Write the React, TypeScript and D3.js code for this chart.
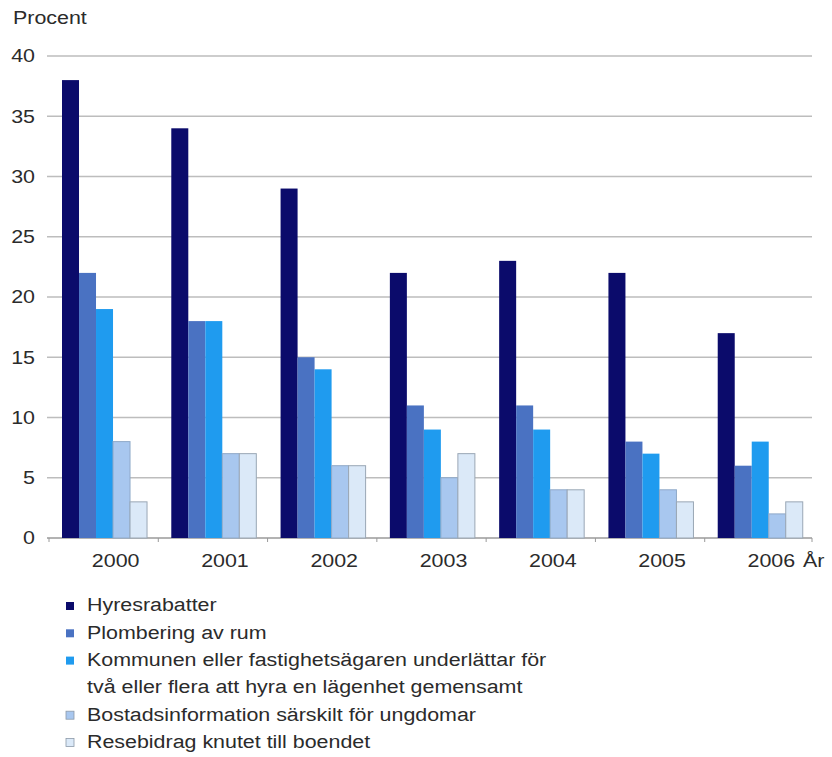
import React from "react";
import * as d3 from "d3";

const years = ["2000", "2001", "2002", "2003", "2004", "2005", "2006"];
const seriesNames = [
  "Hyresrabatter",
  "Plombering av rum",
  "Kommunen eller fastighetsägaren underlättar för|två eller flera att hyra en lägenhet gemensamt",
  "Bostadsinformation särskilt för ungdomar",
  "Resebidrag knutet till boendet",
];
const hyresrabatter = [38, 34, 29, 22, 23, 22, 17];
const plombering = [22, 18, 15, 11, 11, 8, 6];
const kommunen = [19, 18, 14, 9, 9, 7, 8];
const bostadsinfo = [8, 7, 6, 5, 4, 4, 2];
const resebidrag = [3, 7, 6, 7, 4, 3, 3];
const yTicks = [0, 5, 10, 15, 20, 25, 30, 35, 40];

const seriesValues = [hyresrabatter, plombering, kommunen, bostadsinfo, resebidrag];
const colors = ["#0b0b6b", "#4a72c2", "#1f9bef", "#a8c7ef", "#dbe9f8"];
const strokes = ["none", "none", "none", "#8fa9c8", "#9aa7b5"];

const W = 832;
const H = 757;
const left = 49;
const right = 814;
const top = 56;
const bottom = 538;
const font = "'Liberation Sans', Arial, sans-serif";
const textColor = "#2b2b2b";

// Text with a slightly widened face
function Label({
  x,
  y,
  anchor = "start",
  dy = "0",
  children,
}: {
  x: number;
  y: number;
  anchor?: "start" | "middle" | "end";
  dy?: string;
  children: React.ReactNode;
}) {
  return (
    <text
      transform={`translate(${x},${y}) scale(1.19,1)`}
      textAnchor={anchor}
      dy={dy}
      fontFamily={font}
      fontSize={18}
      fill={textColor}
    >
      {children}
    </text>
  );
}

export default function App() {
  const x = d3.scaleBand<string>().domain(years).range([left, right]).padding(0);
  const bw = x.bandwidth();
  const inner = d3
    .scaleBand<number>()
    .domain(d3.range(seriesValues.length))
    .range([bw * 0.119, bw * 0.897])
    .padding(0);
  const y = d3.scaleLinear().domain([0, 40]).range([bottom, top]);

  let row = 0;
  const legendRows = seriesNames.map((name) => {
    const lines = name.split("|");
    const r = row;
    row += lines.length;
    return { lines, r };
  });

  return (
    <div style={{ position: "absolute", left: 0, top: 0 }}>
      <svg width={W} height={H} style={{ display: "block", background: "#fff" }}>
        <Label x={13} y={24}>
          Procent
        </Label>
        {yTicks.map((t) => (
          <g key={t}>
            <line
              x1={left - 2}
              x2={right - 2}
              y1={y(t)}
              y2={y(t)}
              stroke={t === 0 ? "#9a9a9a" : "#bdbdbd"}
              strokeWidth={1.3}
            />
            <Label x={35} y={y(t)} anchor="end" dy="0.36em">
              {t}
            </Label>
          </g>
        ))}
        {years.map((yr, i) => (
          <g key={yr}>
            <line x1={x(yr)!} x2={x(yr)!} y1={bottom} y2={bottom + 4} stroke="#9a9a9a" />
            {seriesValues.map((vals, s) => (
              <rect
                key={s}
                x={x(yr)! + inner(s)!}
                y={y(vals[i])}
                width={inner.bandwidth()}
                height={bottom - y(vals[i])}
                fill={colors[s]}
                stroke={strokes[s]}
                strokeWidth={1}
              />
            ))}
            <Label x={x(yr)! + bw / 2 + 12} y={567} anchor="middle">
              {yr}
            </Label>
          </g>
        ))}
        <line x1={right - 2} x2={right - 2} y1={bottom} y2={bottom + 4} stroke="#9a9a9a" />
        <Label x={803} y={567}>
          År
        </Label>
        {legendRows.map(({ lines, r }, s) => {
          const cy = 605 + r * 27.3;
          return (
            <g key={s}>
              <rect
                x={66}
                y={cy - 3}
                width={8}
                height={8}
                fill={colors[s]}
                stroke={s >= 3 ? "#8c9aa8" : "none"}
                strokeWidth={0.8}
              />
              {lines.map((ln, k) => (
                <Label key={k} x={87} y={cy + k * 27.3} dy="0.36em">
                  {ln}
                </Label>
              ))}
            </g>
          );
        })}
      </svg>
    </div>
  );
}
